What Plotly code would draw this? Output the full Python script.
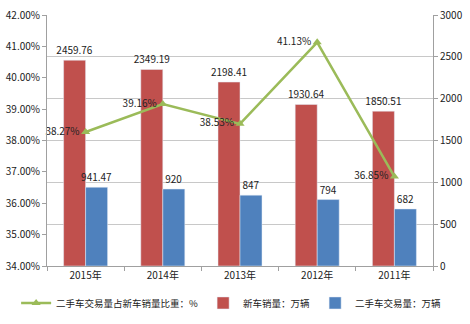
import plotly.graph_objects as go

years = ["2011年", "2012年", "2013年", "2014年", "2015年"]
new_car_sales = [1850.51, 1930.64, 2198.41, 2349.19, 2459.76]
used_car_trade = [682, 794, 847, 920, 941.47]
ratio_pct = [36.85, 41.13, 38.53, 39.16, 38.27]
pct_ticks = [34, 35, 36, 37, 38, 39, 40, 41, 42]
count_ticks = [0, 500, 1000, 1500, 2000, 2500, 3000]

red = "#c0504d"
blue = "#4f81bd"
green = "#9bbb59"
font = "Noto Sans CJK SC"

fig = go.Figure()
fig.add_trace(go.Bar(
    x=years, y=new_car_sales, name="新车销量：万辆", marker_color=red,
    text=[f"{v:g}" for v in new_car_sales], textposition="outside",
    constraintext="none", legendrank=2,
    textfont=dict(size=10, color="#222"), cliponaxis=False,
))
fig.add_trace(go.Bar(
    x=years, y=used_car_trade, name="二手车交易量：万辆", marker_color=blue,
    text=[f"{v:g}" for v in used_car_trade], textposition="outside",
    constraintext="none", legendrank=3,
    textfont=dict(size=10, color="#222"), cliponaxis=False,
))
fig.add_trace(go.Scatter(
    x=years, y=ratio_pct, yaxis="y2", mode="lines+markers+text",
    name="二手车交易量占新车销量比重：%", legendrank=1,
    line=dict(color=green, width=2.5),
    marker=dict(symbol="triangle-up", size=8, color=green),
    text=[f"{v:.2f}%" for v in ratio_pct], textposition="middle left",
    textfont=dict(size=10, color="#222"), cliponaxis=False,
))

fig.update_layout(
    width=470, height=324,
    margin=dict(l=45, r=37, t=6, b=58),
    paper_bgcolor="white", plot_bgcolor="white",
    font=dict(family=font, size=10, color="#222"),
    barmode="group", bargap=0.43, bargroupgap=0,
    showlegend=True,
    legend=dict(orientation="h", x=-0.08, xanchor="left", y=-0.205, yanchor="bottom",
                font=dict(size=9.5), itemwidth=30, tracegroupgap=0),
    xaxis=dict(categoryorder="array", categoryarray=years[::-1],
               showline=True, linecolor="#a0a0a0",
               ticks="outside", tickson="boundaries", ticklen=4, tickcolor="#a0a0a0",
               tickangle=0, tickfont=dict(size=10)),
    yaxis=dict(side="right", range=[0, 3000], tickmode="array", tickvals=count_ticks,
               showgrid=True, gridcolor="#c8c8c8", showline=True, linecolor="#a0a0a0",
               ticks="outside", ticklen=4, tickcolor="#a0a0a0", zeroline=False,
               tickfont=dict(size=10), ticklabeloverflow="allow"),
    yaxis2=dict(side="left", overlaying="y", range=[34, 42], tickmode="array",
                tickvals=pct_ticks, ticktext=[f"{v:.2f}%" for v in pct_ticks],
                showgrid=False, showline=True, linecolor="#a0a0a0", ticks="outside",
                ticklen=4, tickcolor="#a0a0a0", zeroline=False, tickfont=dict(size=10),
                ticklabeloverflow="allow"),
)

fig.write_html("out.html")
